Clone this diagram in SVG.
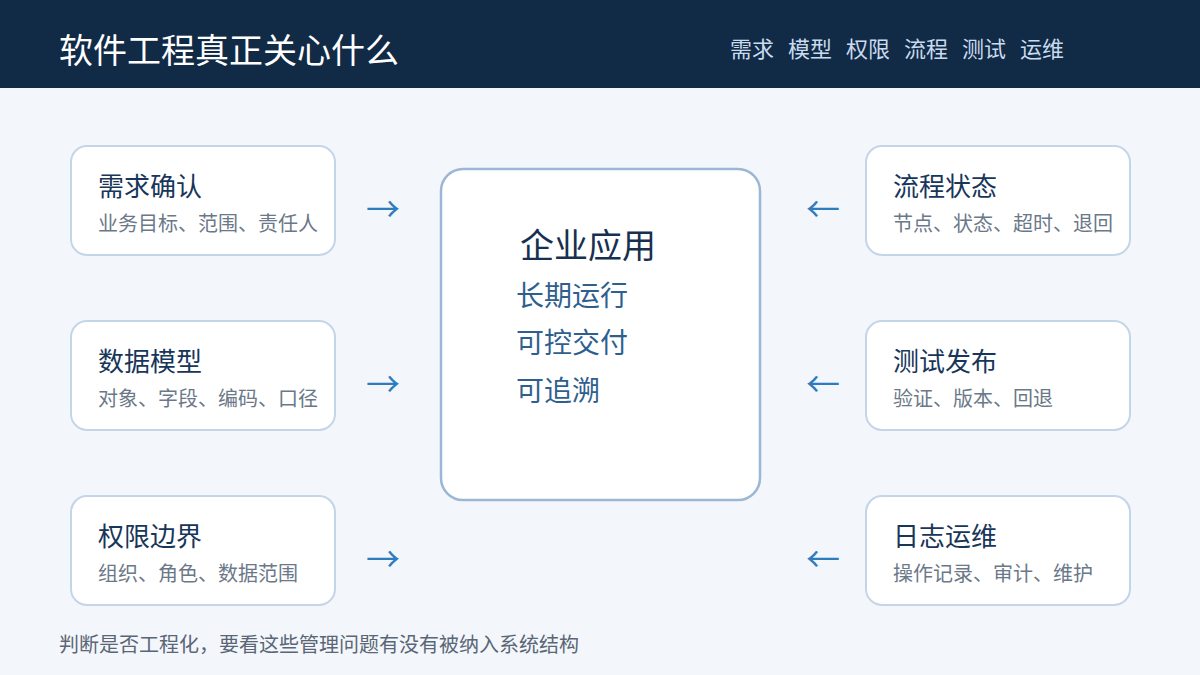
<svg xmlns="http://www.w3.org/2000/svg" width="1200" height="675" viewBox="0 0 1200 675">
<style>
text{font-family:"Noto Sans CJK SC","Noto Sans",sans-serif}
.card{fill:#fff;stroke:#c5d5e8;stroke-width:2}
.t{font-size:26px;fill:#17365a}
.s{font-size:20px;fill:#6b7888}
.nav{font-size:22px;fill:#c9dbee}
.arr{font-size:34px;fill:#2e7bbd}
.it{font-size:28px;fill:#2f5f8f}
</style>
<rect width="1200" height="675" fill="#f3f7fb"/>
<rect width="1200" height="88" fill="#112a46"/>
<text x="59" y="63" font-size="34" fill="#fff">软件工程真正关心什么</text>
<text class="nav" x="730" y="57">需求</text><text class="nav" x="788" y="57">模型</text><text class="nav" x="846" y="57">权限</text><text class="nav" x="904" y="57">流程</text><text class="nav" x="962" y="57">测试</text><text class="nav" x="1020" y="57">运维</text>
<g id="n1"><rect class="card" x="71" y="146" width="264" height="109" rx="16"/><text class="t" x="98" y="196">需求确认</text><text class="s" x="98" y="231">业务目标、范围、责任人</text></g>
<g id="n2"><rect class="card" x="71" y="321" width="264" height="109" rx="16"/><text class="t" x="98" y="371">数据模型</text><text class="s" x="98" y="406">对象、字段、编码、口径</text></g>
<g id="n3"><rect class="card" x="71" y="496" width="264" height="109" rx="16"/><text class="t" x="98" y="546">权限边界</text><text class="s" x="98" y="581">组织、角色、数据范围</text></g>
<g id="n4"><rect class="card" x="866" y="146" width="264" height="109" rx="16"/><text class="t" x="893" y="196">流程状态</text><text class="s" x="893" y="231">节点、状态、超时、退回</text></g>
<g id="n5"><rect class="card" x="866" y="321" width="264" height="109" rx="16"/><text class="t" x="893" y="371">测试发布</text><text class="s" x="893" y="406">验证、版本、回退</text></g>
<g id="n6"><rect class="card" x="866" y="496" width="264" height="109" rx="16"/><text class="t" x="893" y="546">日志运维</text><text class="s" x="893" y="581">操作记录、审计、维护</text></g>
<g id="center"><rect x="441" y="169" width="319" height="331" rx="22" fill="#fff" stroke="#9bb7d4" stroke-width="2.5"/>
<text x="520" y="258" font-size="34" fill="#17304f">企业应用</text>
<text class="it" x="516" y="306">长期运行</text><text class="it" x="516" y="353">可控交付</text><text class="it" x="516" y="401">可追溯</text></g>
<g id="connectors">
<text class="arr" x="366" y="222">→</text><text class="arr" x="366" y="397">→</text><text class="arr" x="366" y="572">→</text>
<text class="arr" x="806" y="222">←</text><text class="arr" x="806" y="397">←</text><text class="arr" x="806" y="572">←</text>
</g>
<text x="59" y="652" font-size="20" fill="#5a6676">判断是否工程化，要看这些管理问题有没有被纳入系统结构</text>
</svg>
